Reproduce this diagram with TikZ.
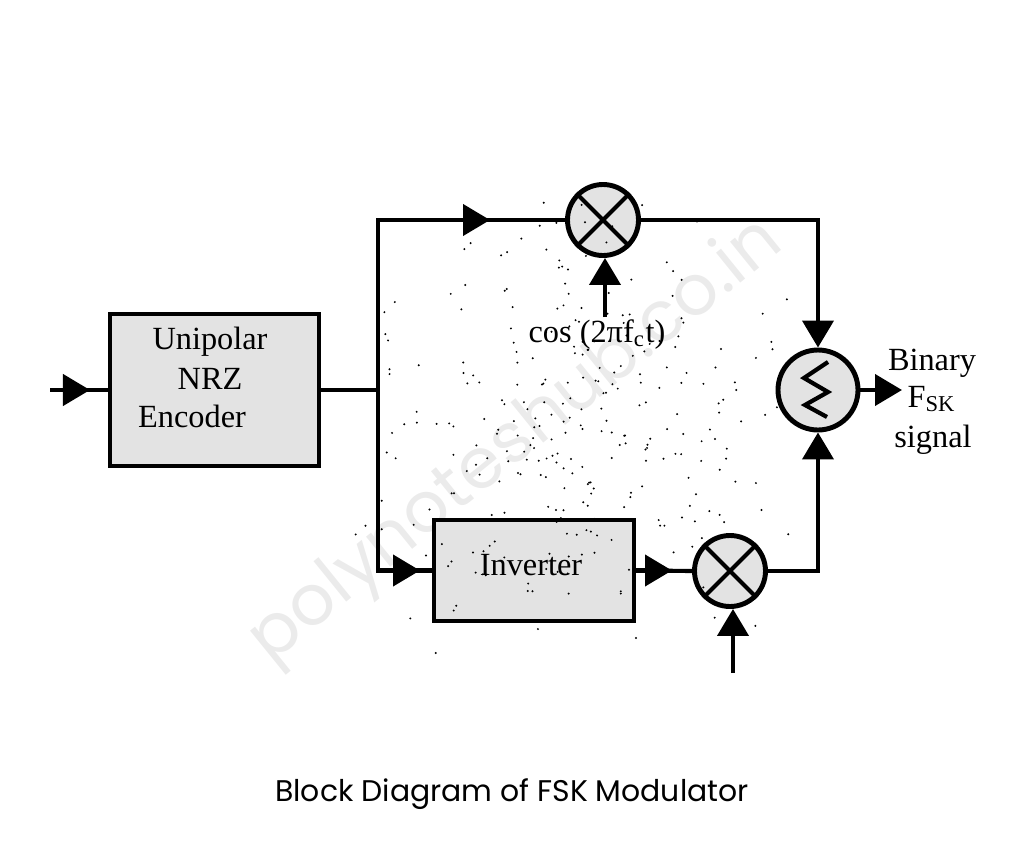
\documentclass[tikz,border=0pt]{standalone}
\usepackage{fontspec}
\setmainfont{Liberation Serif}
\newfontfamily\capfont{Poppins}
\usetikzlibrary{arrows.meta}
\definecolor{boxgray}{gray}{0.89}
\definecolor{markgray}{gray}{0.92}
\tikzset{
  wire/.style={line width=1.2pt},
  tip/.style={-{Triangle[length=0.27cm,width=0.31cm]},line width=1.2pt},
  block/.style={draw,line width=1.4pt,fill=boxgray,minimum width=#1,inner sep=0pt},
  mixer/.style={draw,circle,line width=1.4pt,fill=boxgray,minimum size=#1,inner sep=0pt},
  lbl/.style={font=\fontsize{9.2}{11}\selectfont,inner sep=0pt},
}
\begin{document}
\begin{tikzpicture}
\useasboundingbox (0,0) rectangle (10.24,8.59);
\node[rotate=39,text=markgray,font=\capfont\fontsize{20}{24}\selectfont] (mark) at (5.17,4.17) {polynoteshub.co.in};

% blocks
\node[block=2.09cm,minimum height=1.52cm] (encoder) at (2.145,4.69) {};
\node[block=2.00cm,minimum height=1.01cm] (inverter) at (5.34,2.885) {};
\node[mixer=0.71cm] (mixtop) at (6.03,6.39) {};
\node[mixer=0.71cm] (mixlow) at (7.30,2.88) {};
\node[mixer=0.80cm] (adder) at (8.18,4.69) {};
\foreach \m in {mixtop,mixlow} {
  \draw[wire] (\m.45) -- (\m.225);
  \draw[wire] (\m.135) -- (\m.315);
}
\draw[wire] (8.28,4.97) -- (8.04,4.81) -- (8.28,4.67) -- (8.05,4.54) -- (8.27,4.42);

% scan specks
\pgfmathsetseed{7}
\foreach \i in {1,...,300} {
  \fill (3.4+2.3*rnd+2.3*rnd,1.9+2.5*rnd+2.5*rnd) circle (0.011);
}

% free ends and turning points
\coordinate (input) at (0.50,4.69);
\coordinate (inputtip) at (0.90,4.69);
\coordinate (fork) at (3.78,4.69);
\coordinate (toptip) at (4.90,6.39);
\coordinate (lowtip) at (4.20,2.885);
\coordinate (invtip) at (6.72,2.885);
\coordinate (coscarrier) at (6.05,5.42);
\coordinate (lowcarrier) at (7.33,1.86);
\coordinate (output) at (9.02,4.69);

% connectors
\draw[wire] (input) -- (encoder);
\draw[tip] (input) -- (inputtip);
\draw[wire] (encoder) -- (fork);
\draw[wire] (fork) |- (mixtop);
\draw[tip] (fork) |- (toptip);
\draw[wire] (fork) |- (inverter);
\draw[tip] (fork) |- (lowtip);
\draw[wire] (inverter) -- (mixlow);
\draw[tip] (inverter) -- (invtip);
\draw[tip] (coscarrier) -- (coscarrier |- mixtop.south);
\draw[tip] (lowcarrier) -- (lowcarrier |- mixlow.south);
\draw[tip] (mixtop) -| (adder);
\draw[tip] (mixlow) -| (adder);
\draw[tip] (adder) -- (output);

% labels
\node[lbl] (unipolar) at (2.10,5.17) {Unipolar};
\node[lbl] (nrz) at (2.10,4.80) {NRZ};
\node[lbl] (encodertext) at (1.92,4.43) {Encoder};
\node[lbl] (invertertext) at (5.31,2.94) {Inverter};
\node[lbl] (carrier) at (5.97,5.24) {cos (2πf\textsubscript{c}t)};
\node[lbl] (binary) at (9.32,4.96) {Binary};
\node[lbl] (fsk) at (9.32,4.60) {F\textsubscript{SK}};
\node[lbl] (signal) at (9.33,4.19) {signal};
\node[font=\capfont\fontsize{8.5}{10}\selectfont,inner sep=0pt] (caption) at (5.12,0.65) {Block Diagram of FSK Modulator};
\end{tikzpicture}
\end{document}
